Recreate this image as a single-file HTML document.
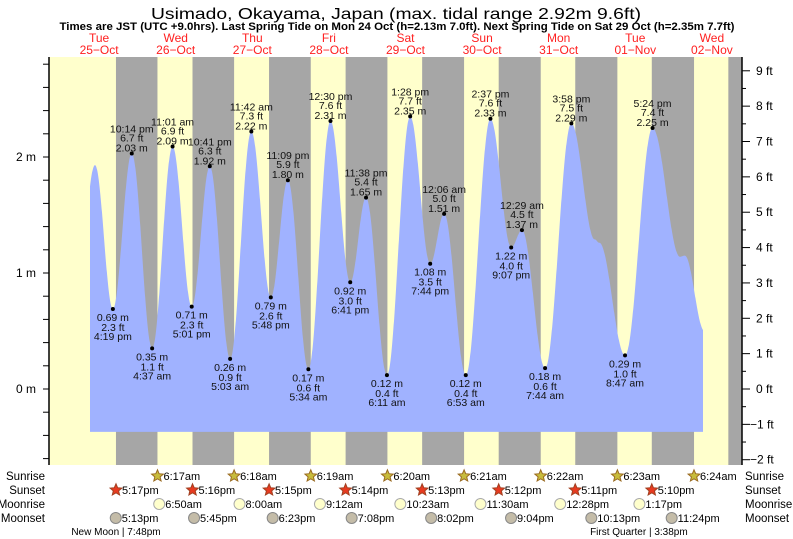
<!DOCTYPE html>
<html><head><meta charset="utf-8"><style>
body{margin:0;background:#fff}
svg{display:block;font-family:"Liberation Sans",sans-serif}
</style></head><body>
<svg id="chart" width="793" height="539" viewBox="0 0 793 539" xmlns="http://www.w3.org/2000/svg">
<text x="396" y="19" font-size="16" text-anchor="middle" textLength="490" lengthAdjust="spacingAndGlyphs">Usimado, Okayama, Japan (max. tidal range 2.92m 9.6ft)</text>
<text x="397" y="30" font-size="11" font-weight="bold" text-anchor="middle" textLength="675" lengthAdjust="spacingAndGlyphs">Times are JST (UTC +9.0hrs). Last Spring Tide on Mon 24 Oct (h=2.13m 7.0ft). Next Spring Tide on Sat 29 Oct (h=2.35m 7.7ft)</text>
<g id="bands"></g>
<g id="tide"></g>
<g id="axes"></g>
<g id="labels"></g>
<g id="days"></g>
<g id="astro"></g>
</svg>
<script>
// ---- data ----
const tideTimes = ["10-25 16:19","10-25 22:14","10-26 04:37","10-26 11:01","10-26 17:01","10-26 22:41","10-27 05:03","10-27 11:42","10-27 17:48","10-27 23:09","10-28 05:34","10-28 12:30","10-28 18:41","10-28 23:38","10-29 06:11","10-29 13:28","10-29 19:44","10-30 00:06","10-30 06:53","10-30 14:37","10-30 21:07","10-31 00:29","10-31 07:44","10-31 15:58","11-01 08:47","11-01 17:24"];
const tideHeights = [0.69,2.03,0.35,2.09,0.71,1.92,0.26,2.22,0.79,1.80,0.17,2.31,0.92,1.65,0.12,2.35,1.08,1.51,0.12,2.33,1.22,1.37,0.18,2.29,0.29,2.25];
const tideKinds = ["L","H","L","H","L","H","L","H","L","H","L","H","L","H","L","H","L","H","L","H","L","H","L","H","L","H"];
// unlabeled curve points read from the shape (start, shoulders, end)
const extraTimes = ["10-25 04:00","10-25 10:43","10-31 23:15","11-01 00:45","11-02 02:00","11-02 03:30","11-02 09:40"];
const extraHeights = [0.50,1.93,1.29,1.26,1.14,1.15,0.50];
const curveStart = "10-25 09:09";
const curveEnd = "11-02 09:12";
const sunriseTimes = ["10-26 06:17","10-27 06:18","10-28 06:19","10-29 06:20","10-30 06:21","10-31 06:22","11-01 06:23","11-02 06:24"];
const sunsetTimes = ["10-25 17:17","10-26 17:16","10-27 17:15","10-28 17:14","10-29 17:13","10-30 17:12","10-31 17:11","11-01 17:10"];
const lastSunset = "11-02 17:09";
const moonriseTimes = ["10-26 06:50","10-27 08:00","10-28 09:12","10-29 10:23","10-30 11:30","10-31 12:28","11-01 13:17"];
const moonsetTimes = ["10-25 17:13","10-26 17:45","10-27 18:23","10-28 19:08","10-29 20:02","10-30 21:04","10-31 22:13","11-01 23:24"];
const dayNames = ["Tue","Wed","Thu","Fri","Sat","Sun","Mon","Tue","Wed"];
const dayDates = ["25-Oct","26-Oct","27-Oct","28-Oct","29-Oct","30-Oct","31-Oct","01-Nov","02-Nov"];
const mTicks = [0,1,2];
const ftTicks = [-2,-1,0,1,2,3,4,5,6,7,8,9];
const phaseTexts = ["New Moon | 7:48pm","First Quarter | 3:38pm"];
const phaseTimes = ["10-25 19:48","11-01 15:38"];

// ---- scales ----
const X0=60.8, DAY=76.6, Y0=389, PXM=116, TOP=57, BOT=465, LEFT=49, RIGHT=742;
function tday(s){const [md,hm]=s.split(" ");const [mo,d]=md.split("-").map(Number);const [h,mi]=hm.split(":").map(Number);
  const dd = mo===10? d-25 : d+6; return dd + (h+mi/60)/24;}
const xs = s => X0 + tday(s)*DAY;
const xd = t => X0 + t*DAY;
const ym = m => Y0 - m*PXM;
const NS="http://www.w3.org/2000/svg";
function el(tag,attrs,parent,txt){const e=document.createElementNS(NS,tag);for(const k in attrs)e.setAttribute(k,attrs[k]);if(txt!==undefined)e.textContent=txt;parent.appendChild(e);return e;}
function fmt12(s,space){const [h,mi]=s.split(" ")[1].split(":").map(Number);const ap=h<12?"am":"pm";let hh=h%12;if(hh===0)hh=12;return hh+":"+String(mi).padStart(2,"0")+(space?" ":"")+ap;}

// ---- bands ----
const bands=document.getElementById("bands");
const b0=el("rect",{x:LEFT,y:TOP,width:RIGHT-LEFT,height:BOT-TOP,fill:"#ffffcc"},bands);


for(let i=0;i<sunsetTimes.length;i++){
  const a=xs(sunsetTimes[i]), b=xs(sunriseTimes[i]);
  const r=el("rect",{x:a,y:TOP,width:b-a,height:BOT-TOP,fill:"#a6a6a6"},bands);
  
  
}
{const a=xs(lastSunset);const r=el("rect",{x:a,y:TOP,width:RIGHT-a,height:BOT-TOP,fill:"#a6a6a6"},bands);
 
 }

// ---- tide curve ----
let pts=[];
for(let i=0;i<tideTimes.length;i++)pts.push([tday(tideTimes[i]),tideHeights[i]]);
for(let i=0;i<extraTimes.length;i++)pts.push([tday(extraTimes[i]),extraHeights[i]]);
pts.sort((a,b)=>a[0]-b[0]);
function hAt(t){for(let i=0;i<pts.length-1;i++){if(t>=pts[i][0]&&t<=pts[i+1][0]){const f=(t-pts[i][0])/(pts[i+1][0]-pts[i][0]);return pts[i][1]+(pts[i+1][1]-pts[i][1])*(1-Math.cos(Math.PI*f))/2;}}return pts[pts.length-1][1];}
const t0=tday(curveStart), t1=tday(curveEnd), bottomM=-0.37;
let d="M"+xd(t0).toFixed(1)+","+ym(bottomM).toFixed(1);
for(let t=t0;t<=t1;t+=0.004)d+=" L"+xd(t).toFixed(1)+","+ym(hAt(t)).toFixed(1);
d+=" L"+xd(t1).toFixed(1)+","+ym(hAt(t1)).toFixed(1)+" L"+xd(t1).toFixed(1)+","+ym(bottomM).toFixed(1)+"Z";
const tp=el("path",{d:d,fill:"#a0b2ff"},document.getElementById("tide"));



// ---- axes ----
const ax=document.getElementById("axes");
el("line",{x1:LEFT,y1:TOP,x2:LEFT,y2:BOT,stroke:"#000","stroke-width":1.5},ax);
el("line",{x1:RIGHT,y1:TOP,x2:RIGHT,y2:BOT,stroke:"#000","stroke-width":1.5},ax);
for(let m=-0.6;m<=2.81;m+=0.2){const y=ym(m);if(y<TOP||y>BOT)continue;el("line",{x1:LEFT-6,y1:y,x2:LEFT,y2:y,stroke:"#000"},ax);}
mTicks.forEach(m=>{const t=el("text",{x:LEFT-13,y:ym(m)+4,"font-size":12,"text-anchor":"end"},ax,m+" m");
  
  });
for(let f=-2;f<=9.5;f+=0.5){const y=ym(f*0.3048);if(y<TOP||y>BOT+2)continue;el("line",{x1:RIGHT,y1:y,x2:RIGHT+(f%1===0?8:4),y2:y,stroke:"#000"},ax);}
ftTicks.forEach(f=>{const t=el("text",{x:RIGHT+(f<0?8:14),y:ym(f*0.3048)+4,"font-size":12},ax,(f<0?"\u2212"+(-f):f)+" ft");
  
  });

// ---- tide labels ----
const lb=document.getElementById("labels");
for(let i=0;i<tideTimes.length;i++){
  const x=xs(tideTimes[i]), y=ym(tideHeights[i]), m=tideHeights[i];
  const c=el("circle",{cx:x,cy:y,r:2,fill:"#000"},lb);
  
  
  const ft=(m*3.28084).toFixed(1)+" ft", ms=m.toFixed(2)+" m", tm=fmt12(tideTimes[i],true);
  const lines = tideKinds[i]==="H" ? [[tm,y-21],[ft,y-12],[ms,y-2]] : [[ms,y+12],[ft,y+22],[tm,y+31]];
  lines.forEach(([s,yy])=>{const t=el("text",{x:x,y:yy,"font-size":10.5,"text-anchor":"middle",fill:"#111"},lb,s);
    
    });
}

// ---- day labels ----
const dy=document.getElementById("days");
for(let i=0;i<dayNames.length;i++){const x=xd(i+0.5);
  const a=el("text",{x:x,y:42,"font-size":12,"text-anchor":"middle",fill:"#ff2020"},dy,dayNames[i]);
  
  
  const b=el("text",{x:x,y:54,"font-size":12,"text-anchor":"middle",fill:"#ff2020"},dy,dayDates[i].replace("-","\u2212"));
  
  }

// ---- sun / moon rows ----
const as=document.getElementById("astro");
const rows=[["Sunrise",476],["Sunset",490],["Moonrise",504],["Moonset",518]];
rows.forEach(([n,y])=>{
  const l=el("text",{x:45,y:y+4,"font-size":11.5,"text-anchor":"end"},as,n);
  
  
  const r=el("text",{x:745,y:y+4,"font-size":11.5},as,n);
  
  });
function star(cx,cy,fill,stroke){let p="";for(let k=0;k<10;k++){const a=-Math.PI/2+k*Math.PI/5;const r=k%2?2.8:6.2;p+=(cx+r*Math.cos(a)).toFixed(1)+","+(cy+r*Math.sin(a)).toFixed(1)+" ";}
  return el("polygon",{points:p,fill:fill,stroke:stroke,"stroke-width":1},as);}
function evRow(list,y,kind){list.forEach(s=>{const x=xs(s);let ic;
  if(kind==="sr")ic=star(x,y,"#c8bc3c","#9a6a20");
  else if(kind==="ss")ic=star(x,y,"#e83a20","#a04020");
  else if(kind==="mr")ic=el("circle",{cx:x,cy:y,r:5.5,fill:"#ffffcc",stroke:"#aaa"},as);
  else ic=el("circle",{cx:x,cy:y,r:5.5,fill:"#c4bca8",stroke:"#888"},as);
  
  
  const t=el("text",{x:x+6,y:y+4,"font-size":11},as,fmt12(s,false));
  
  });}
evRow(sunriseTimes,476,"sr");evRow(sunsetTimes,490,"ss");evRow(moonriseTimes,504,"mr");evRow(moonsetTimes,518,"ms");
phaseTexts.forEach((s,i)=>{const t=el("text",{x:xs(phaseTimes[i])-8,y:535,"font-size":10,"text-anchor":"middle"},as,s);
  
  });
</script>
</body></html>
